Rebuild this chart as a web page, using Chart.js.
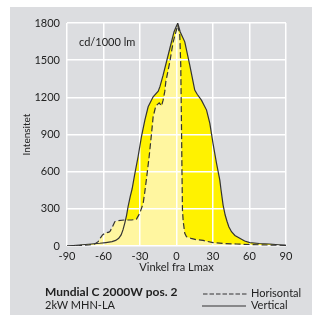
<!DOCTYPE html>
<html>
<head>
<meta charset="utf-8">
<script src="https://cdn.jsdelivr.net/npm/chart.js@4/dist/chart.umd.min.js"></script>
<style>
  html, body { margin: 0; padding: 0; background: #fff; }
  #wrap { position: relative; width: 312px; height: 315px; overflow: hidden; }
  #panel { position: absolute; left: 10px; top: 7px; width: 302px; height: 308px; background: #dcdde0; }
  #chart { position: absolute; left: 0; top: 0; }
  .txt { position: absolute; font-family: Lato, sans-serif; color: #222; white-space: nowrap; line-height: 1; }
  #unit { left: 79px; top: 36px; font-size: 11px; }
  #name { left: 45px; top: 286px; font-size: 12px; font-weight: bold; }
  #lamp { left: 45px; top: 299px; font-size: 11px; }
  #legH { left: 251px; top: 287px; font-size: 11px; }
  #legV { left: 251px; top: 299px; font-size: 11px; }
  svg.leg { position: absolute; left: 202px; width: 46px; height: 4px; }
</style>
</head>
<body>
<div id="wrap">
  <div id="panel"></div>
  <canvas id="chart" width="312" height="315"></canvas>
  <div class="txt" id="unit">cd/1000 lm</div>
  <div class="txt" id="name">Mundial C 2000W pos. 2</div>
  <div class="txt" id="lamp">2kW MHN-LA</div>
  <svg class="leg" style="top:292px"><line x1="1" y1="2" x2="45" y2="2" stroke="#333" stroke-width="1.2" stroke-dasharray="4.5 2"/></svg>
  <div class="txt" id="legH">Horisontal</div>
  <svg class="leg" style="top:304px"><line x1="0" y1="2" x2="44" y2="2" stroke="#333" stroke-width="1.2"/></svg>
  <div class="txt" id="legV">Vertical</div>
</div>
<script>
// angle (deg) / intensity (cd/1000 lm)
const horisontalAngle = [-90, -80, -72, -67.2, -64.4, -62.5, -60.8, -58.1, -55.5, -54.5, -52.6, -50.7, -48, -42.5, -37, -33, -30.2, -27.4, -26, -24.7, -22.5, -20.5, -19.2, -17, -14.2, -12.3, -11, -9.6, -8.8, -5.5, -2.7, 1, 2.7, 3.5, 4.1, 4.5, 4.9, 5.5, 6.8, 8.2, 12, 16, 21.9, 30, 40, 49.3, 60, 75, 90];
const horisontalValue = [0, 3, 8, 16, 35, 65, 89, 107, 112, 120, 156, 196, 204, 210, 210, 215, 264, 344, 440, 540, 720, 909, 1043, 1130, 1156, 1130, 1177, 1250, 1325, 1486, 1648, 1782, 1702, 1460, 976, 600, 290, 200, 102, 75, 62, 52, 45, 27, 20, 16, 12, 8, 5];

const verticalAngle = [-90, -80, -70, -63, -58, -53, -50, -47.5, -45.5, -44, -42.5, -41, -39.8, -38, -36.5, -34.5, -31.6, -28.8, -26, -23.3, -19.2, -15, -13.5, -11, -5.5, -2, 1, 3, 6.8, 10.9, 15, 17, 20.5, 24.7, 27.4, 30, 32.9, 35.6, 36.5, 38.3, 40, 41.5, 43, 45.2, 48, 52, 56, 60.2, 68, 76.7, 84, 90];
const verticalValue = [0, 8, 16, 22, 28, 35, 45, 62, 90, 130, 185, 250, 317, 400, 460, 570, 720, 882, 1016, 1124, 1204, 1250, 1290, 1379, 1594, 1730, 1800, 1730, 1648, 1460, 1258, 1225, 1177, 1097, 990, 828, 667, 532, 460, 330, 250, 200, 155, 115, 85, 62, 40, 27, 20, 16, 10, 5];

const xTicks = [-90, -60, -30, 0, 30, 60, 90];
const yTicks = [0, 300, 600, 900, 1200, 1500, 1800];

const toPoints = (xs, ys) => xs.map((x, i) => ({ x: x, y: ys[i] }));

const tickFont = { family: 'Lato', size: 11 };

const ctx = document.getElementById('chart').getContext('2d');
new Chart(ctx, {
    type: 'line',
    data: {
        datasets: [
            {
                label: 'Horisontal',
                data: toPoints(horisontalAngle, horisontalValue),
                borderColor: '#333',
                borderWidth: 1.2,
                borderDash: [6, 3],
                backgroundColor: '#fff6a0',
                fill: 'origin',
                pointRadius: 0,
                tension: 0
            },
            {
                label: 'Vertical',
                data: toPoints(verticalAngle, verticalValue),
                borderColor: '#333',
                borderWidth: 1.2,
                backgroundColor: '#fff200',
                fill: 'origin',
                pointRadius: 0,
                tension: 0
            }
        ]
    },
    options: {
        responsive: false,
        animation: false,
        layout: { padding: { left: 0, right: 26, top: 23, bottom: 39 } },
        plugins: {
            legend: { display: false },
            tooltip: { enabled: false },
            filler: { drawTime: 'beforeDraw' }
        },
        scales: {
            x: {
                type: 'linear',
                min: -90,
                max: 90,
                afterFit: scale => { scale.height = 30; },
                afterBuildTicks: scale => { scale.ticks = xTicks.map(v => ({ value: v })); },
                grid: { color: '#fff', lineWidth: 1.5, drawTicks: false },
                border: { display: false },
                ticks: { color: '#222', font: tickFont, padding: 4, maxRotation: 0, callback: v => String(v) },
                title: { display: true, text: 'Vinkel fra Lmax', color: '#222', font: tickFont, padding: { top: 0, bottom: 2 } }
            },
            y: {
                min: 0,
                max: 1800,
                afterFit: scale => { scale.width = 67; },
                afterBuildTicks: scale => { scale.ticks = yTicks.map(v => ({ value: v })); },
                grid: { color: '#fff', lineWidth: 1.5, drawTicks: false },
                border: { display: false },
                ticks: { color: '#222', font: tickFont, padding: 7, callback: v => String(v) },
                title: { display: true, text: 'Intensitet', color: '#222', font: { family: 'Lato', size: 10 }, padding: { top: 21, bottom: 0 } }
            }
        }
    }
});
</script>
</body>
</html>
